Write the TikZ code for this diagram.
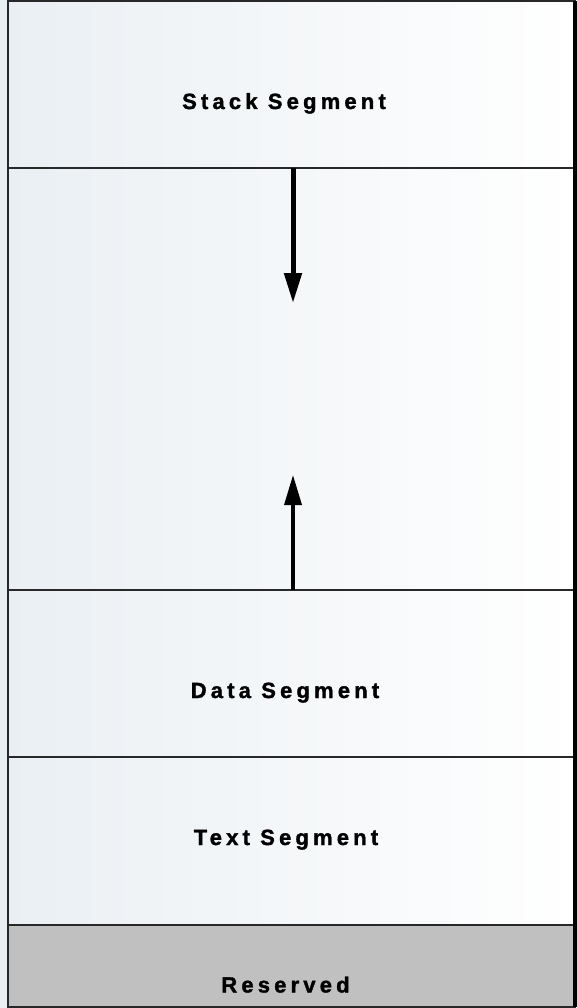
\documentclass[tikz,border=0pt]{standalone}
\usepackage{fontspec}
\newfontfamily\labelfont[LetterSpace=19,BoldFont={Liberation Sans Bold},BoldFeatures={FakeBold=1.5}]{Liberation Sans}
\usetikzlibrary{arrows.meta}
\definecolor{paneleft}{RGB}{234,239,243}
\definecolor{reservedgray}{RGB}{192,192,192}
\definecolor{rule}{RGB}{40,40,40}
\tikzset{
  segbox/.style={draw=rule, line width=1.8pt, rectangle, inner sep=0pt, outer sep=0pt,
                 anchor=north west, minimum width=567pt},
  seglabel/.style={font=\labelfont\bfseries\fontsize{22pt}{26pt}\selectfont, anchor=base,
                   inner sep=0pt},
  growth/.style={draw=black, -{Triangle[width=17pt,length=30pt]}},
}
\begin{document}
\begin{tikzpicture}[x=1pt,y=-1pt]
  \useasboundingbox (0,0) rectangle (577,1008);
  % background shading across the whole sheet
  \shade[left color=paneleft, right color=white] (0,0) rectangle (577,1008);

  % memory segments, top to bottom
  \node[segbox, minimum height=167pt] (stack) at (8,1) {};
  \node[segbox, minimum height=422pt] (free) at (8,168) {};
  \node[segbox, minimum height=167pt] (data) at (8,590) {};
  \node[segbox, minimum height=168pt] (text) at (8,757) {};
  \node[segbox, minimum height=82pt, fill=reservedgray] (reserved) at (8,925) {};

  % heavier right edge
  \draw[black, line width=3.5pt] (stack.north east) -- (reserved.south east);

  % labels
  \node[seglabel] (stacklbl) at (284,109) {Stack Segment};
  \node[seglabel] (datalbl) at (285,698) {Data Segment};
  \node[seglabel] (textlbl) at (286,845) {Text Segment};
  \node[seglabel] (reslbl) at (285.5,992.5) {Reserved};

  % growth directions
  \coordinate (stacktip) at (293,303);
  \coordinate (heaptip) at (293,475);
  \draw[growth, line width=5pt] (stack.south -| stacktip) -- (stacktip);
  \draw[growth, line width=3.6pt] (data.north -| heaptip) -- (heaptip);
\end{tikzpicture}
\end{document}
